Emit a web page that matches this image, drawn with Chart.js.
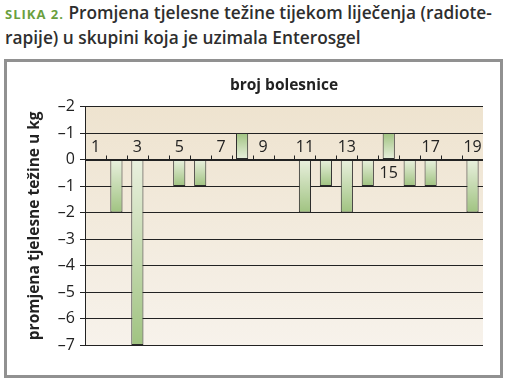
<!DOCTYPE html>
<html>
<head>
<meta charset="utf-8">
<script src="https://cdn.jsdelivr.net/npm/chart.js@4"></script>
<style>
body{margin:0;background:#fff;width:507px;height:381px;overflow:hidden;font-family:"Open Sans",sans-serif}
#cap{position:absolute;left:5px;top:1px;font-size:17.3px;font-weight:600;color:#2e2e2e;line-height:23px;white-space:nowrap}
#cap b{color:#6a9f3e;font-size:13px;letter-spacing:1px;font-weight:700}
#box{position:absolute;left:4px;top:59px;width:493px;height:313px;border:3px solid #919191}
</style>
</head>
<body>
<div id="cap"><b>SLIKA 2.</b> Promjena tjelesne težine tijekom liječenja (radiote-<br>rapije) u skupini koja je uzimala Enterosgel</div>
<div id="box"><canvas id="c" width="493" height="313"></canvas></div>
<script>
// broj bolesnice 1..19
var patients = ['1','2','3','4','5','6','7','8','9','10','11','12','13','14','15','16','17','18','19'];
// promjena tezine (kg)
var change = [0, -2, -7, 0, -1, -1, 0, 1, 0, 0, -2, -1, -2, -1, 1, -1, -1, 0, -2];
// which category numbers are written, and which go under the zero line
var shownLabels = ['1','3','5','7','9','11','13','15','17','19'];
var labelsBelow = ['15'];

var yTickValues = [2, 1, 0, -1, -2, -3, -4, -5, -6, -7];
var yTickText = ['–2', '–1', '0', '–1', '–2', '–3', '–4', '–5', '–6', '–7'];

var fontFam = '"Open Sans", sans-serif';

var plotBg = {
  id: 'plotBg',
  beforeDraw: function(chart) {
    var a = chart.chartArea, c = chart.ctx;
    var g = c.createLinearGradient(0, a.top, 0, a.bottom);
    g.addColorStop(0, '#eee3cf');
    g.addColorStop(1, '#f7f2eb');
    c.save();
    c.fillStyle = g;
    c.fillRect(a.left, a.top, a.right - a.left, a.bottom - a.top);
    c.restore();
  }
};

var catAxis = {
  id: 'catAxis',
  afterDatasetsDraw: function(chart) {
    var c = chart.ctx, x = chart.scales.x, y = chart.scales.y;
    var y0 = Math.round(y.getPixelForValue(0)) + 0.5;
    var step = x.getPixelForValue(1) - x.getPixelForValue(0);
    c.save();
    c.strokeStyle = '#222';
    c.lineWidth = 1;
    c.beginPath();
    c.moveTo(chart.chartArea.left, y0);
    c.lineTo(chart.chartArea.right, y0);
    for (var i = 1; i < patients.length; i++) {
      var bx = Math.round(x.getPixelForValue(i) - step / 2) + 0.5;
      c.moveTo(bx, y0);
      c.lineTo(bx, y0 - 5);
    }
    c.stroke();
    c.fillStyle = '#222';
    c.font = '16px ' + fontFam;
    c.textAlign = 'center';
    c.textBaseline = 'middle';
    patients.forEach(function(p, i) {
      if (shownLabels.indexOf(p) < 0) return;
      var v = labelsBelow.indexOf(p) >= 0 ? -0.5 : 0.5;
      c.fillText(p, x.getPixelForValue(i), y.getPixelForValue(v) + 1);
    });
    c.restore();
  }
};

new Chart('c', {
  type: 'bar',
  data: {
    labels: patients,
    datasets: [{
      data: change,
      backgroundColor: function(ctx) {
        var chart = ctx.chart;
        if (!chart.chartArea) return '#b5d196';
        var y = chart.scales.y;
        var p0 = y.getPixelForValue(0), p1 = y.getPixelForValue(ctx.raw);
        if (p0 === p1) return '#b5d196';
        var g = chart.ctx.createLinearGradient(0, p0, 0, p1);
        g.addColorStop(0, '#e9f0de');
        g.addColorStop(1, '#a0c381');
        return g;
      },
      borderColor: '#2a2a2a',
      borderWidth: 1,
      borderSkipped: false,
      barPercentage: 0.58,
      categoryPercentage: 1
    }]
  },
  options: {
    responsive: false,
    animation: false,
    layout: {padding: {top: 0, right: 17, bottom: 30, left: 0}},
    plugins: {
      legend: {display: false},
      tooltip: {enabled: false},
      title: {
        display: true,
        text: 'broj bolesnice',
        fullSize: false,
        color: '#222',
        font: {family: fontFam, size: 15.5, weight: '700'},
        padding: {top: 14, bottom: 12}
      }
    },
    scales: {
      x: {display: false},
      y: {
        min: -7,
        max: 2,
        afterFit: function(s) { s.width = 78; },
        afterBuildTicks: function(s) {
          s.ticks = yTickValues.map(function(v) { return {value: v}; });
        },
        ticks: {
          color: '#222',
          padding: 5,
          font: {family: fontFam, size: 16},
          callback: function(v) { return yTickText[yTickValues.indexOf(v)]; }
        },
        grid: {color: '#222', lineWidth: 1, tickLength: 5},
        border: {color: '#222'},
        title: {
          display: true,
          text: 'promjena tjelesne težine u kg',
          color: '#222',
          font: {family: fontFam, size: 15.5, weight: '700'},
          padding: {top: 18, bottom: 0}
        }
      }
    }
  },
  plugins: [plotBg, catAxis]
});
</script>
</body>
</html>
